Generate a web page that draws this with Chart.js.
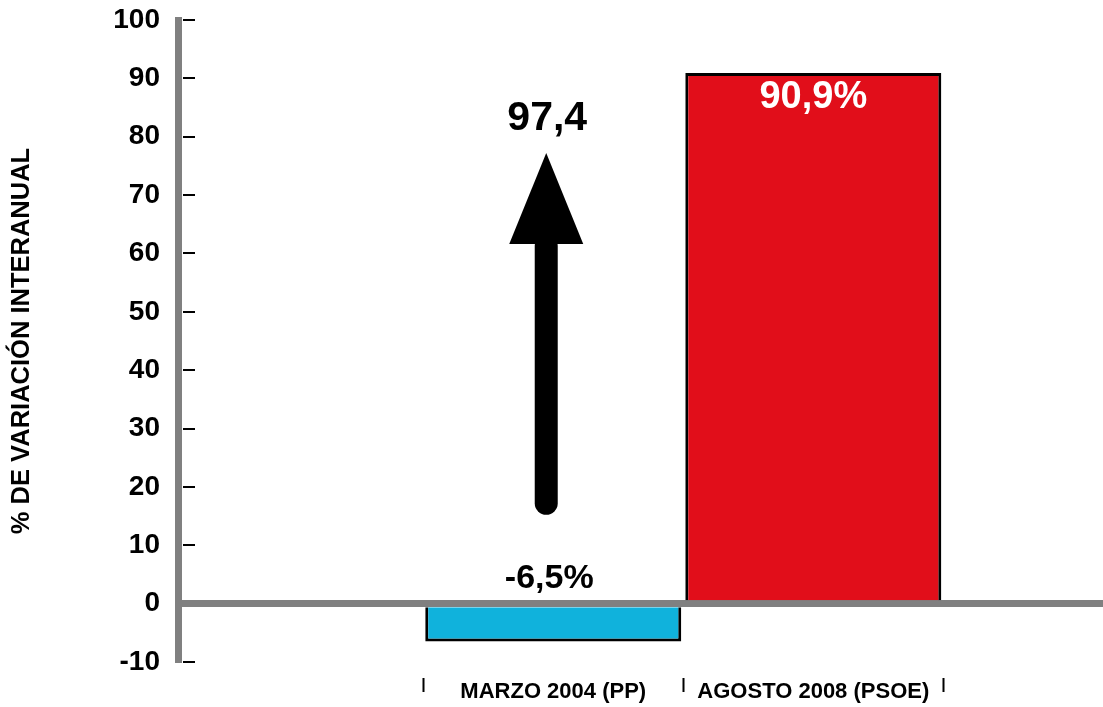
<!DOCTYPE html>
<html><head><meta charset="utf-8">
<script src="https://cdn.jsdelivr.net/npm/chart.js@4"></script>
<style>html,body{margin:0;padding:0;background:#fff;overflow:hidden}</style>
</head><body>
<canvas id="c" width="1103" height="707"></canvas>
<script>
// ---- data ----
const categories = ['MARZO 2004 (PP)', 'AGOSTO 2008 (PSOE)'];
const categoryPositions = [1, 2];
const values = [-6.5, 90.9];
const valueLabels = ['-6,5%', '90,9%'];
const barColors = ['#10b2dc', '#e10e1a'];
const yTicks = [-10, 0, 10, 20, 30, 40, 50, 60, 70, 80, 90, 100];
const xTickMarks = [0.5, 1.5, 2.5];
const changeLabel = '97,4';
const axisTitle = '% DE VARIACIÓN INTERANUAL';

// arrow annotation (in data units)
const arrowSpec = { x: 0.973, from: 17.2, headBase: 61.6, tip: 77.2, labelAt: 81.2 };

const FONT = "'Liberation Sans', Arial, Helvetica, sans-serif";

const labelPlugin = {
  id: 'labels',
  afterDraw(chart) {
    const ctx = chart.ctx;
    const xs = chart.scales.x, ys = chart.scales.y;
    const meta = chart.getDatasetMeta(0);
    ctx.save();
    ctx.textAlign = 'center';
    ctx.textBaseline = 'alphabetic';
    meta.data.forEach((bar, i) => {
      const v = values[i];
      if (v < 0) {
        ctx.fillStyle = '#000';
        ctx.font = 'bold 34px ' + FONT;
        ctx.fillText(valueLabels[i], bar.x - 4, ys.getPixelForValue(0) - 16);
      } else {
        ctx.fillStyle = '#fff';
        ctx.font = 'bold 38px ' + FONT;
        ctx.fillText(valueLabels[i], bar.x, bar.y + 35);
      }
    });
    // arrow
    const ax = xs.getPixelForValue(arrowSpec.x);
    const yFrom = ys.getPixelForValue(arrowSpec.from);
    const yBase = ys.getPixelForValue(arrowSpec.headBase);
    const yTip = ys.getPixelForValue(arrowSpec.tip);
    ctx.strokeStyle = '#000';
    ctx.lineWidth = 23;
    ctx.lineCap = 'round';
    ctx.beginPath();
    ctx.moveTo(ax, yFrom);
    ctx.lineTo(ax, yBase + 2);
    ctx.stroke();
    ctx.fillStyle = '#000';
    ctx.beginPath();
    ctx.moveTo(ax - 37, yBase);
    ctx.lineTo(ax + 37, yBase);
    ctx.lineTo(ax, yTip);
    ctx.closePath();
    ctx.fill();
    ctx.font = 'bold 41px ' + FONT;
    ctx.fillText(changeLabel, ax + 1, ys.getPixelForValue(arrowSpec.labelAt));
    ctx.restore();
  }
};

new Chart(document.getElementById('c'), {
  type: 'bar',
  data: {
    datasets: [{
      data: categoryPositions.map((x, i) => ({ x: x, y: values[i] })),
      backgroundColor: barColors,
      borderColor: '#000',
      borderWidth: 3,
      borderSkipped: 'start',
      categoryPercentage: 1,
      barPercentage: 1.969
    }]
  },
  options: {
    responsive: false,
    animation: false,
    devicePixelRatio: 1,
    layout: { padding: { top: 20, left: 0, right: 0, bottom: 0 } },
    plugins: { legend: { display: false }, tooltip: { enabled: false } },
    scales: {
      x: {
        type: 'linear',
        position: 'bottom',
        offset: false,
        min: -0.443,
        max: 3.114,
        afterBuildTicks(scale) {
          const vals = xTickMarks.concat(categoryPositions).sort((a, b) => a - b);
          scale.ticks = vals.map(v => ({ value: v }));
        },
        afterFit(scale) { scale.height = 45; scale.paddingLeft = 0; scale.paddingRight = 0; },
        ticks: {
          autoSkip: false,
          maxRotation: 0,
          padding: -13,
          color: '#000',
          font: { family: FONT, size: 22, weight: 'bold' },
          callback(value) {
            const idx = categoryPositions.indexOf(value);
            return idx >= 0 ? categories[idx] : '';
          }
        },
        grid: {
          offset: false,
          drawOnChartArea: false,
          drawTicks: true,
          tickLength: 30,
          tickWidth: 2,
          tickColor: c => (c.tick && xTickMarks.includes(c.tick.value)) ? '#000' : 'rgba(0,0,0,0)',
          tickBorderDash: [0, 16, 14, 1000]
        },
        border: { display: false }
      },
      y: {
        type: 'linear',
        min: -10,
        max: 100,
        z: 1,
        afterBuildTicks(scale) { scale.ticks = yTicks.map(v => ({ value: v })); },
        afterFit(scale) { scale.width = 178; scale.paddingTop = 0; scale.paddingBottom = 0; },
        ticks: {
          padding: 18,
          color: '#000',
          font: { family: FONT, size: 28, weight: 'bold' }
        },
        grid: {
          drawTicks: false,
          color: c => (c.tick && c.tick.value === 0) ? '#808080' : '#000',
          lineWidth: c => (c.tick && c.tick.value === 0) ? 7 : 2
        },
        border: {
          display: true,
          color: '#808080',
          width: 7,
          dash: c => (c.type === 'tick' && c.tick && c.tick.value !== 0) ? [0, 1, 12, 3000] : []
        },
        title: {
          display: true,
          text: axisTitle,
          color: '#000',
          font: { family: FONT, size: 25.5, weight: 'bold' },
          padding: { top: 7, bottom: 0 }
        }
      }
    }
  },
  plugins: [labelPlugin]
});
</script>
</body></html>
